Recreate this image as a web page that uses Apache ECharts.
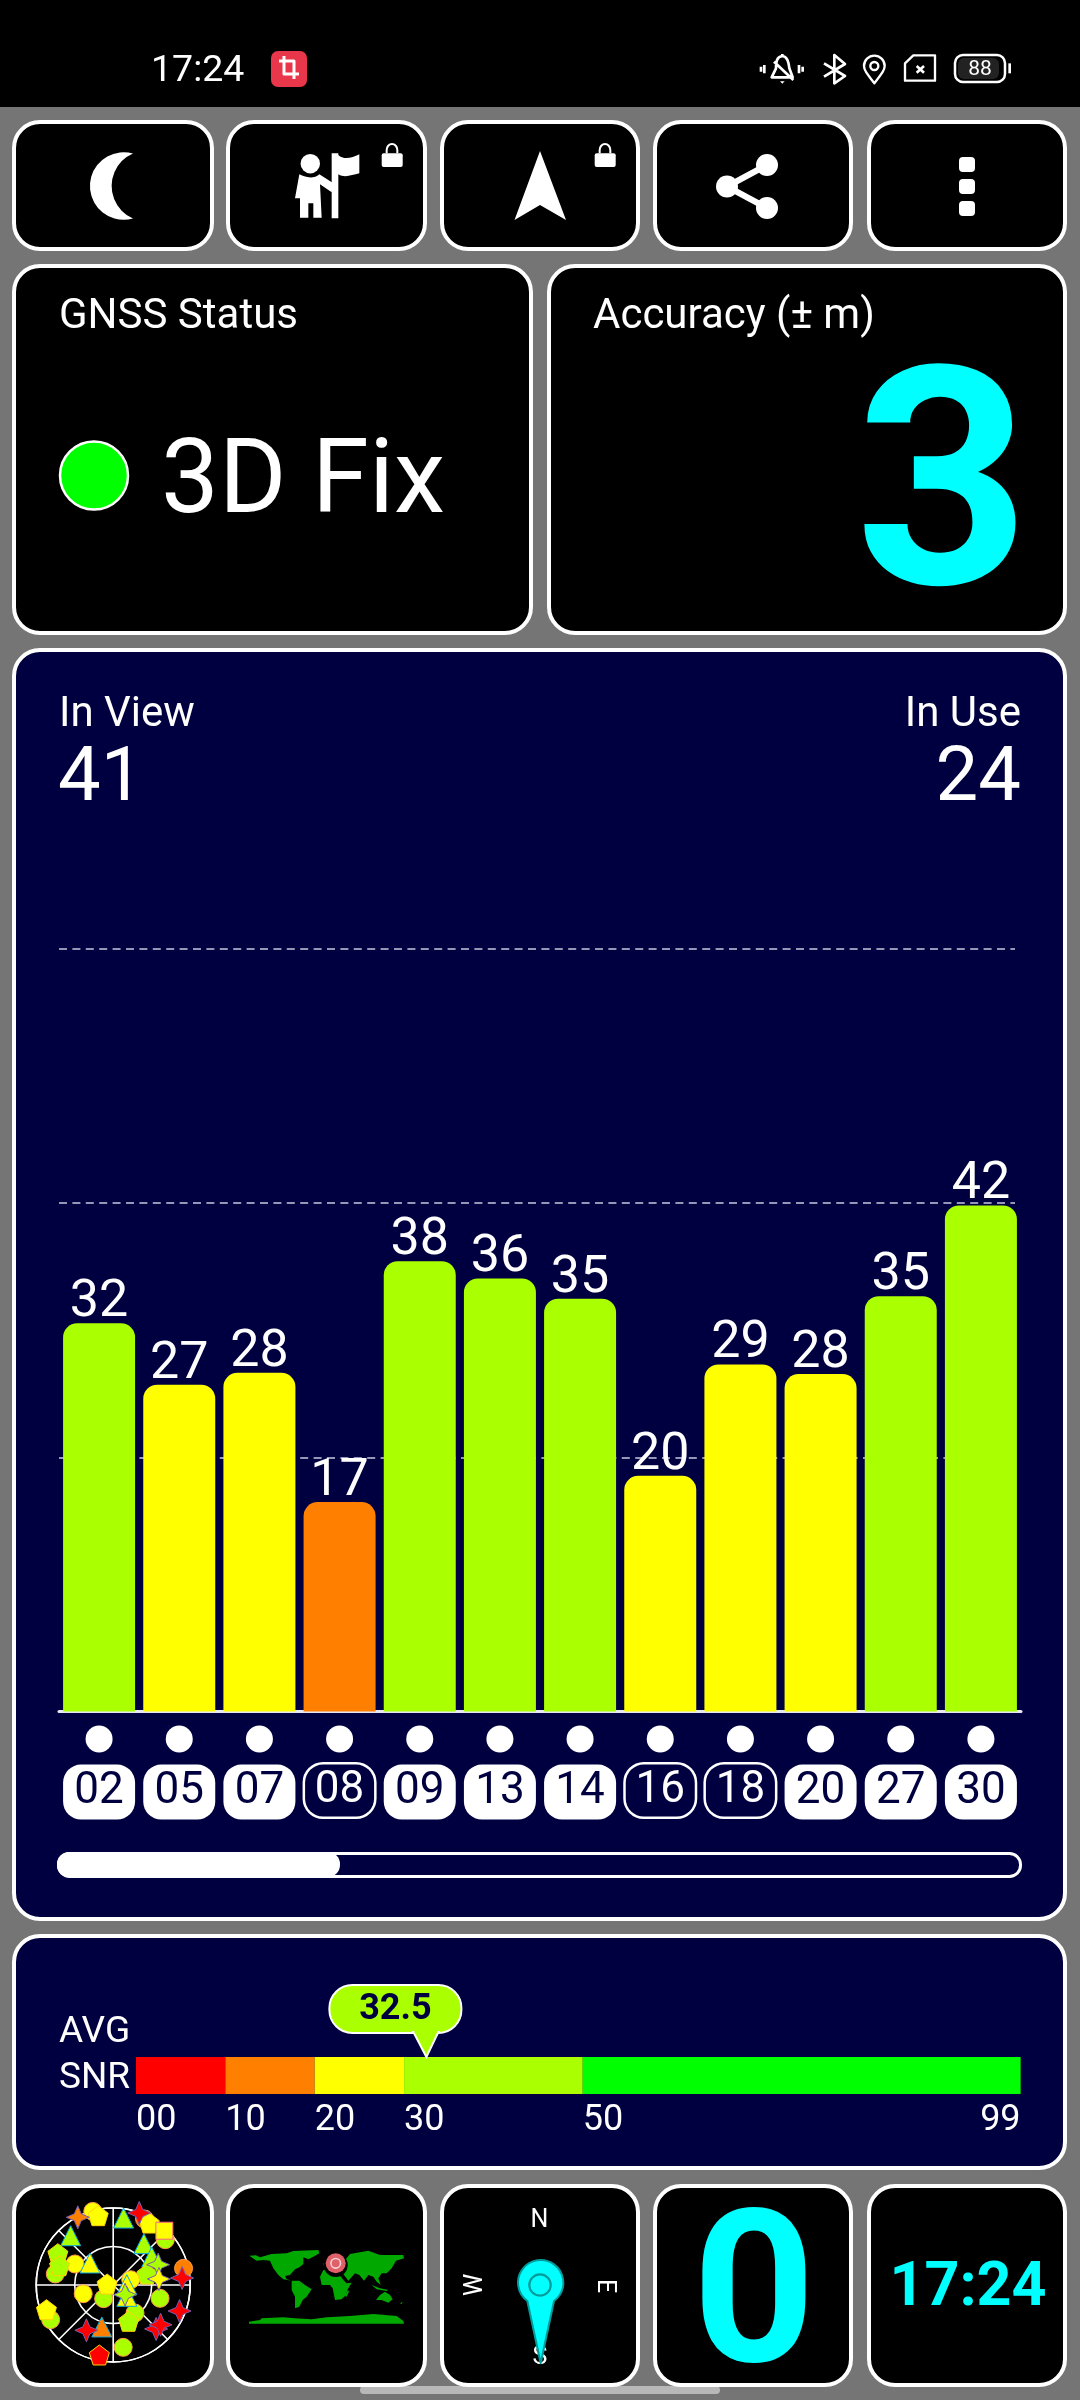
<!DOCTYPE html>
<html>
<head>
<meta charset="utf-8">
<script src="https://cdn.jsdelivr.net/npm/echarts@6/dist/echarts.min.js"></script>
<style>html,body{margin:0;padding:0;background:#757575}#c{width:1080px;height:2400px}</style>
</head>
<body>
<div id="c"></div>
<script>
// ---- Satellite bar chart data ----
const prnLabels = ['02','05','07','08','09','13','14','16','18','20','27','30'];
const snrLabels = [32,27,28,17,38,36,35,20,29,28,35,42];
const barHeights = [32.06,26.99,27.98,17.3,37.2,35.77,34.1,19.47,28.67,27.87,34.3,41.8];
const usedInFix = [1,1,1,0,1,1,1,0,0,1,1,1];
const yTickStep = 21;
const yMax = 63;

// ---- Average SNR scale ----
const avgSnr = 32.5;
const snrSpans = [10,10,10,20,49];
const snrSpanColors = ['#ff0000','#ff8000','#ffff00','#aaff00','#00ff00'];
const snrTicks = [0,10,20,30,50,99];

// ---- Sky plot: [radius (0-90), azimuth, SNR bucket 0..3] ----
const skyCircles = [[89.3,344.5,2],[85.4,25.4,1],[80.7,49,3],[84.5,76.7,1],[51,298.8,2],[68.9,280.8,3],[36.5,253.8,2],[19.5,215,3],[21.4,73.2,2],[56.9,105.9,3],[83.6,241,3],[73.8,170.9,3],[41.5,142.1,3]];
const skyTriangles = [[79.2,8.8,3],[76.1,319.2,3],[60.2,36.6,3],[37.4,313.5,2],[15.9,88.7,2],[20.7,129.7,2],[50.8,195.2,1],[55.7,54,3]];
const skyPentagons = [[82.9,347.8,2],[83.8,30.2,2],[74.3,299.5,3],[66.6,289.8,3],[41.6,72,3],[7.2,279.3,2],[83.2,249.7,2],[46.1,157,3],[83.4,191.2,0]];
const skySquares = [[87.2,43.3,2]];
const skyStars = [[89.3,332.4,1],[89.5,19.9,0],[57.7,65.7,3],[53.9,82.5,2],[81,84.2,0],[17.9,129.4,3],[83.3,111.4,0],[61.5,210.6,0],[71.8,135.7,0],[72.3,130,0]];
const bucketFill = ['#ff0000','#ff8000','#ffff00','#aaff00'];
const bucketEdge = ['#e00000','#b86000','#b0b000','#7fae00'];

const FONT = 'Roboto, sans-serif';
const NAVY = '#000040';
const CYAN = '#00ffff';

function snrColor(v){ return v < 10 ? '#ff0000' : v < 20 ? '#ff8000' : v < 30 ? '#ffff00' : v < 50 ? '#aaff00' : '#00ff00'; }

// ---- decoration helpers ----
const els = [];
let shapeId = 0;
function rect(x,y,w,h,r,fill,stroke,lw){
  els.push({type:'rect',z:-1,shape:{x,y,width:w,height:h,r},style:{fill:fill||'none',stroke:stroke||'none',lineWidth:lw||0}});
}
function card(x0,y0,x1,y1,fill){ rect(x0+2,y0+2,x1-x0-4,y1-y0-4,26,fill,'#ffffff',4); }
function text(t,x,y,size,o){
  o=o||{};
  els.push({type:'text',z:-1,x,y,rotation:o.rot||0,style:{text:t,x:0,y:0,fill:o.fill||'#fff',
    font:(o.weight||'normal')+' '+size+'px '+FONT,align:o.align||'left',verticalAlign:'middle'}});
}
function path(d,o){
  o=o||{};
  const name='deco'+(shapeId++);
  echarts.graphic.registerShape(name,echarts.graphic.extendPath(d,{}));
  els.push({type:name,z:-1,x:o.x||0,y:o.y||0,scaleX:o.s||1,scaleY:o.sy||o.s||1,
    style:{fill:o.fill||'none',stroke:o.stroke||'none',lineWidth:o.lw||0,lineCap:o.cap||'butt',lineJoin:'round'}});
}
function circle(cx,cy,r,fill,stroke,lw){
  els.push({type:'circle',z:-1,shape:{cx,cy,r},style:{fill:fill||'none',stroke:stroke||'none',lineWidth:lw||0}});
}

// status bar
rect(0,0,1080,107,0,'#000');
text('17:24',151,72,37.5);
rect(271,51,36,36,7,'#e8374a');
path('M279 61 H294 V79 M284 56 V74 H299',{stroke:'#fff',lw:3});
// status icons (drawn at 3x and scaled)
const ic={x:750,y:40,s:1/3};
path('M33 80 V95 M43 75 V100 M147 75 V100 M158 80 V95',{...ic,stroke:'#fff',lw:8});
path('M65 112 L128 112 L118 85 C115 60 110 50 97 48 C80 50 78 65 78 85 Z M72 65 L130 120 M97 42 V48',{...ic,stroke:'#fff',lw:8});
path('M90 124 H104 L97 131 Z',{...ic,fill:'#fff'});
path('M222 70 L285 108 L253 130 L253 45 L285 72 L222 110',{...ic,stroke:'#fff',lw:8});
path('M373 130 C350 100 342 90 342 78 A31 31 0 1 1 404 78 C404 90 396 100 373 130 Z',{...ic,stroke:'#fff',lw:7});
path('M385 78 A12 12 0 1 1 361 78 A12 12 0 1 1 385 78 Z',{...ic,stroke:'#fff',lw:7});
path('M490 46 L555 46 L555 122 L465 122 L465 70 Z',{...ic,stroke:'#fff',lw:7});
path('M500 78 L522 98 M522 78 L500 98',{...ic,stroke:'#fff',lw:8});
rect(955,55,50,27,8,'#000','#fff',2.5);
rect(958,58,41,21,6,'#222');
text('88',980,70,21,{align:'center'});
path('M775 70 H783 V100 H775 Z',{...ic,fill:'#fff'});

// top buttons
card(12,120,214,251,'#000'); card(226,120,427,251,'#000'); card(440,120,640,251,'#000');
card(653,120,853,251,'#000'); card(867,120,1067,251,'#000');
path('M133 153.5 A33.8 33.8 0 1 0 133 218.5 A35.4 35.4 0 0 1 133 153.5 Z',{fill:'#fff'});
const p={x:270,y:135,s:1/3};
circle(310.3,163.7,9.7,'#fff');
path('M88 118 C100 125 130 135 148 118 L190 145 L185 172 L150 148 L155 248 H130 V205 H115 V248 H90 V190 H75 Z',{...p,fill:'#fff'});
path('M185 55 H205 V250 H185 Z M205 60 C220 75 245 70 268 58 L268 115 C245 120 225 130 205 118 Z',{...p,fill:'#fff'});
function lock(dx){
  rect(381.7+dx,153.3,21,13.7,2,'#fff');
  path('M350 55 V45 A16 18 0 0 1 382 45 V55',{x:270+dx,y:135,s:1/3,stroke:'#fff',lw:6});
}
lock(0); lock(213);
path('M540 151 L566 220 L540 205 L514.5 220 Z',{fill:'#fff'});
path('M767 165 L727 186.5 L767 208',{stroke:'#fff',lw:6});
circle(767,165,11,'#fff'); circle(727,186.5,11,'#fff'); circle(767,208,11,'#fff');
rect(959,157,16,15,4,'#fff'); rect(959,179,16,15,4,'#fff'); rect(959,201,16,15,4,'#fff');

// status cards
card(12,264,533,635,'#000'); card(547,264,1067,635,'#000');
text('GNSS Status',59,317,42);
circle(94,475.5,34,'#00ff00','#fff',2.5);
text('3D Fix',161,486,103);
text('Accuracy (\u00b1 m)',593,317,42);
text('3',1030,507,305,{align:'right',fill:CYAN,weight:'bold'});

// satellites card
card(12,648,1067,1921,NAVY);
text('In View',59,715,42);
text('41',58,781,76);
text('In Use',1021,715,42,{align:'right'});
text('24',1021,781,76,{align:'right'});
// scroll bar
rect(58.5,1853.5,962,23,11,NAVY,'#fff',3);
rect(57,1852,283,25,12,'#fff');

// SNR card
card(12,1934,1067,2170,NAVY);
text('AVG',59,2033,37);
text('SNR',59,2079,37);

// home indicator under the bottom row
rect(360,2386,360,8,4,'#b8b8b8');

// bottom cards
card(12,2184,214,2387,'#000'); card(226,2184,427,2387,'#000'); card(440,2184,640,2387,'#000');
card(653,2184,853,2387,'#000'); card(867,2184,1067,2387,'#000');

// world map (3x drawing scaled into the card)
const m={x:240,y:2240,s:1/3,fill:'#00a800'};
path('M28 47 L48 46 L60 52 L95 42 L140 40 L160 33 L235 30 L238 40 L220 50 L205 58 L190 52 L190 72 L178 82 L165 88 L150 105 L135 108 L140 118 L155 122 L130 118 L115 105 L100 85 L90 62 L70 60 L50 62 Z',m);
path('M155 122 L178 122 L195 135 L215 148 L200 170 L188 180 L178 200 L165 205 L165 170 L155 150 Z',m);
path('M240 110 L250 90 L290 92 L310 120 L320 130 L335 128 L322 150 L318 165 L305 178 L285 180 L278 145 L270 135 L245 135 Z',m);
path('M255 90 L250 70 L290 62 L320 55 L330 42 L385 32 L420 45 L490 45 L492 55 L468 62 L455 85 L440 100 L425 100 L415 115 L422 135 L410 125 L400 110 L385 105 L372 122 L358 105 L345 100 L325 122 L308 100 L290 98 Z',m);
path('M408 180 L420 165 L435 155 L450 165 L458 178 L445 188 L425 180 Z',m);
path('M27 245 L60 240 L65 235 L130 232 L165 235 L215 238 L260 232 L330 228 L400 222 L470 228 L490 243 L492 251 L27 251 Z',m);
path('M395 135 L420 145 L445 150 L440 153 L410 148 Z M322 152 L328 152 L320 170 L315 168 Z M480 190 L488 185 L485 192 Z',m);
circle(335.7,2265,12,'#000');
circle(335.7,2263.3,10,'#e0606a');
circle(335.7,2263.3,4.8,'none','#f4d0d0',1.6);

// compass
text('N',539.5,2221,25,{align:'center'});
text('W',475.5,2285,25,{align:'center',rot:Math.PI/2});
text('E',604,2286,25,{align:'center',rot:-Math.PI/2});
text('S',540,2358,25,{align:'center'});
path('M217 318 A68 68 0 1 1 297 318 L257 505 Z',{x:455,y:2195,s:1/3,fill:CYAN,stroke:'#009c9c',lw:6});
circle(540,2285,10.7,'none','#009c9c',2.2);

text('0',754,2307,214,{align:'center',fill:CYAN,weight:'bold'});
text('17:24',968,2290,61,{align:'center',fill:CYAN,weight:'bold'});

// ---- star / pentagon marker outlines ----
const starPath = 'path://M0 -10 L3 -3 L10 0 L3 3 L0 10 L-3 3 L-10 0 L-3 -3 Z';
const pentPath = 'path://M0 -10 L9.5 -3.1 L5.9 8.1 L-5.9 8.1 L-9.5 -3.1 Z';

function skySeries(data,symbol,size){
  return {type:'scatter',coordinateSystem:'polar',data,symbol,symbolSize:size,animation:false,silent:true,
    itemStyle:{color:p=>bucketFill[p.value[2]],borderColor:p=>bucketEdge[p.value[2]],borderWidth:1,opacity:1}};
}

const chart = echarts.init(document.getElementById('c'),null,{width:1080,height:2400});
chart.setOption({
  backgroundColor:'#757575',
  animation:false,
  graphic:{elements:els},
  grid:[
    {left:59,width:962,top:948.7,height:762.9},      // bars
    {left:59,width:956,top:948.7,height:762.9},      // dashed reference lines
    {left:59,width:962,top:1725,height:28},          // dots row
    {left:136,width:884.6,top:2057,height:37}        // SNR scale
  ],
  polar:{center:[113.2,2285],radius:77},
  angleAxis:{min:0,max:360,interval:45,startAngle:90,clockwise:true,
    axisLine:{lineStyle:{color:'#fff',width:1.6}},axisTick:{show:false},axisLabel:{show:false},
    splitLine:{lineStyle:{color:'#fff',width:1.6}}},
  radiusAxis:{min:0,max:90,interval:45,axisLine:{show:false},axisTick:{show:false},axisLabel:{show:false},
    splitLine:{lineStyle:{color:'#fff',width:1.6}}},
  xAxis:[
    {gridIndex:0,type:'category',data:prnLabels,
      axisLine:{lineStyle:{color:'#e8e8f4',width:3}},axisTick:{show:false},
      axisLabel:{interval:0,margin:53,
        formatter:(v,i)=>(usedInFix[i]?'{on|':'{off|')+v+'}',
        rich:{
          on:{width:72,height:55,lineHeight:55,align:'center',fontFamily:FONT,fontSize:44,color:NAVY,backgroundColor:'#fff',borderRadius:18},
          off:{width:69,height:52,lineHeight:52,align:'center',fontFamily:FONT,fontSize:44,color:'#fff',backgroundColor:NAVY,borderColor:'#fff',borderWidth:2.5,borderRadius:18}
        }}},
    {gridIndex:1,type:'value',show:false,min:0,max:1},
    {gridIndex:2,type:'category',data:prnLabels,show:false},
    {gridIndex:3,type:'value',min:0,max:99,
      axisLine:{show:false},axisTick:{show:false},splitLine:{show:false},
      axisLabel:{customValues:snrTicks,margin:9,fontFamily:FONT,fontSize:36,color:'#fff',align:'left',alignMaxLabel:'right',
        formatter:v=>String(v).padStart(2,'0')}}
  ],
  yAxis:[
    {gridIndex:0,type:'value',min:0,max:yMax,interval:yTickStep,show:false},
    {gridIndex:1,type:'value',min:0,max:yMax,interval:yTickStep,
      axisLine:{show:false},axisTick:{show:false},axisLabel:{show:false},
      splitLine:{show:true,lineStyle:{color:'#c8c8e0',width:1.5,type:[8,5.4]}}},
    {gridIndex:2,type:'value',min:0,max:1,show:false},
    {gridIndex:3,type:'category',data:['SNR'],show:false}
  ],
  series:[
    {type:'line',xAxisIndex:1,yAxisIndex:1,data:[],silent:true},
    {type:'bar',xAxisIndex:0,yAxisIndex:0,barWidth:72,silent:true,z:3,
      data:barHeights.map((v,i)=>({value:v,itemStyle:{color:snrColor(snrLabels[i]),borderRadius:[14,14,0,0]}})),
      label:{show:true,position:'top',distance:-6,fontFamily:FONT,fontSize:52,color:'#fff',
        formatter:p=>String(snrLabels[p.dataIndex])}},
    {type:'scatter',xAxisIndex:2,yAxisIndex:2,symbol:'circle',symbolSize:27,silent:true,
      itemStyle:{color:'#fff',opacity:1},data:prnLabels.map(c=>[c,0.5])},
    ...snrSpans.map((v,i)=>({type:'bar',xAxisIndex:3,yAxisIndex:3,stack:'snr',barWidth:'100%',silent:true,
      itemStyle:{color:snrSpanColors[i]},data:[v]})),
    {type:'custom',xAxisIndex:3,yAxisIndex:3,clip:false,silent:true,z:5,data:[[avgSnr,0]],
      renderItem:(params,api)=>{
        const tipX = api.coord([api.value(0),0])[0];
        const tipY = params.coordSys.y;
        const col = snrColor(api.value(0));
        return {type:'group',children:[
          {type:'rect',shape:{x:tipX-97,y:tipY-72,width:132,height:48,r:23},style:{fill:col,stroke:'#fff',lineWidth:2}},
          {type:'polygon',shape:{points:[[tipX-13,tipY-25],[tipX+12,tipY-25],[tipX,tipY]]},style:{fill:col,stroke:'#fff',lineWidth:2}},
          {type:'rect',shape:{x:tipX-12,y:tipY-29,width:23,height:5},style:{fill:col}},
          {type:'text',x:tipX-31,y:tipY-47,style:{text:api.value(0).toFixed(1),fill:NAVY,font:'bold 36px '+FONT,align:'center',verticalAlign:'middle'}}
        ]};
      }},
    skySeries(skyCircles,'circle',18),
    skySeries(skyTriangles,'triangle',20),
    skySeries(skyPentagons,pentPath,20),
    skySeries(skySquares,'rect',17),
    skySeries(skyStars,starPath,23)
  ]
});
</script>
</body>
</html>
